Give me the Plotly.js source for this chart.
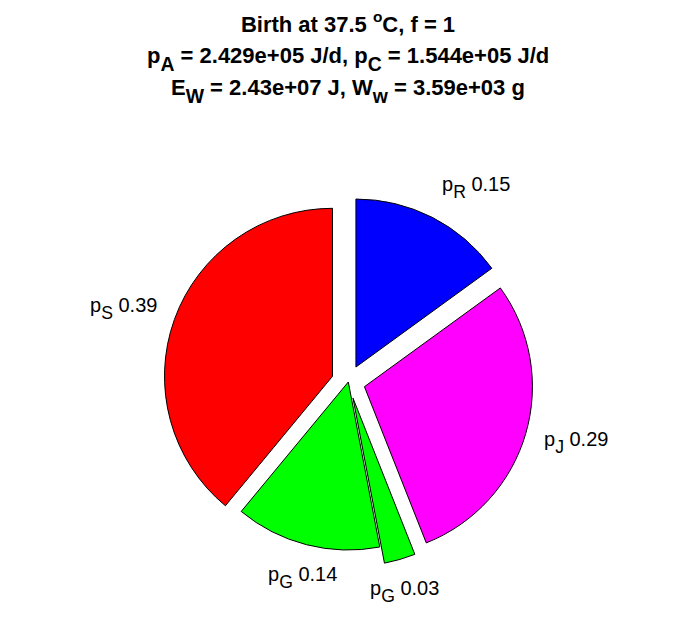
<!DOCTYPE html>
<html>
<head>
<meta charset="utf-8">
<script src="https://cdn.plot.ly/plotly-3.0.1.min.js"></script>
<style>html,body{margin:0;padding:0;background:#fff;}#chart{width:696px;height:618px;}</style>
</head>
<body>
<div id="chart"></div>
<script>
// Data (clockwise from 12 o'clock)
var sliceIds = ['R', 'J', 'G_a', 'G_b', 'S'];
var sliceSymbols = ['R', 'J', 'G', 'G', 'S'];
var sliceValues = [0.15, 0.29, 0.03, 0.14, 0.39];
var slicePulls = [0.1, 0.1, 0.1, 0, 0.1];
var sliceColors = ['#0000ff', '#ff00ff', '#00ff00', '#00ff00', '#ff0000'];
var titleLines = [
  'Birth at 37.5 <sup>o</sup>C, f = 1',
  'p{A} = 2.429e+05 J/d, p{C} = 1.544e+05 J/d',
  'E{W} = 2.43e+07 J, W{w} = 3.59e+03 g'
];

function subs(s) {
  return s.replace(/\{(\w+)\}/g, '<sub><sub><span style="font-size:180%">$1</span></sub></sub>');
}

var W = 696, H = 618;
var FONT = 'Liberation Sans, Arial, sans-serif';

// pie placement (pixels)
var cx = 348.3, cy = 382, R = 168;
var maxPull = Math.max.apply(null, slicePulls);
var half = R * (1 + maxPull);

var trace = {
  type: 'pie',
  labels: sliceIds,
  values: sliceValues,
  textinfo: 'none',
  sort: false,
  direction: 'clockwise',
  rotation: 0,
  pull: slicePulls,
  marker: {colors: sliceColors, line: {color: '#000', width: 1}},
  hoverinfo: 'none',
  showlegend: false,
  domain: {x: [(cx - half) / W, (cx + half) / W], y: [1 - (cy + half) / H, 1 - (cy - half) / H]}
};

// slice labels placed from the slice mid-angles
var total = sliceValues.reduce(function (a, b) { return a + b; }, 0);
var cum = 0;
var labelAnns = sliceValues.map(function (v, i) {
  var th = 2 * Math.PI * (cum + v / 2) / total;
  cum += v;
  var s = Math.sin(th), c = Math.cos(th);
  var px = cx + (1.1 + slicePulls[i]) * R * s;
  var py = cy - (1.2 + slicePulls[i]) * R * c;
  var xa = s > 0.4 ? 'left' : (s < -0.4 ? 'right' : 'center');
  return {
    text: subs('p{' + sliceSymbols[i] + '} ' + v.toFixed(2)),
    xref: 'paper', yref: 'paper', x: px / W, y: 1 - py / H,
    xanchor: xa, yanchor: 'middle', showarrow: false,
    font: {family: FONT, size: 20, color: '#000'}
  };
});

var titleFont = {family: FONT, size: 22, color: '#000'};
var layout = {
  width: W, height: H,
  margin: {l: 0, r: 0, t: 0, b: 0},
  paper_bgcolor: '#fff',
  showlegend: false,
  title: {
    text: '<b>' + titleLines[0] + '</b>',
    font: titleFont,
    x: 0.5, xanchor: 'center', y: 1 - 24 / H, yanchor: 'middle', yref: 'container'
  },
  annotations: [
    {text: '<b>' + subs(titleLines[1]) + '</b>', xref: 'paper', yref: 'paper', x: 0.5, y: 1 - 59 / H,
     xanchor: 'center', yanchor: 'middle', showarrow: false, font: titleFont},
    {text: '<b>' + subs(titleLines[2]) + '</b>', xref: 'paper', yref: 'paper', x: 0.5, y: 1 - 91 / H,
     xanchor: 'center', yanchor: 'middle', showarrow: false, font: titleFont}
  ].concat(labelAnns)
};

Plotly.newPlot('chart', [trace], layout, {displayModeBar: false, staticPlot: true});
</script>
</body>
</html>
